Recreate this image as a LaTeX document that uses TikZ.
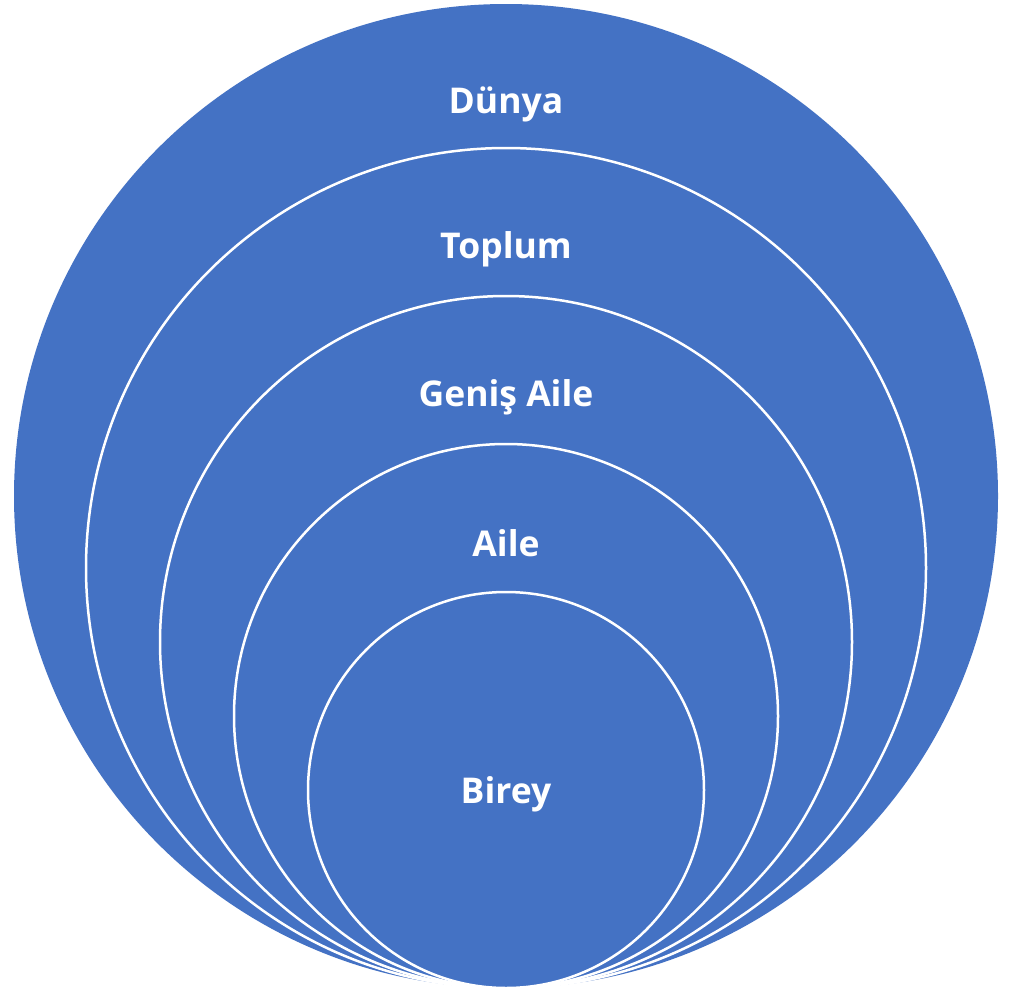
\documentclass[tikz,border=0pt]{standalone}
\usepackage{fontspec}
\setmainfont{Open Sans}
\definecolor{ringblue}{HTML}{4472C4}
\tikzset{
  ring/.style={fill=ringblue, draw=white, line width=2.5pt},
  lbl/.style={text=white, font=\fontsize{35.5}{42}\selectfont\bfseries, anchor=base, inner sep=0pt}
}
\begin{document}
\begin{tikzpicture}[x=1pt,y=-1pt]
\useasboundingbox (0,0) rectangle (1012,991);
\fill[white] (0,0) rectangle (1012,991);
\path[ring, draw=none] (506,496) circle[radius=492];
\path[ring] (506,568) circle[radius=420];
\path[ring] (506,642) circle[radius=346];
\path[ring] (506,716) circle[radius=272];
\path[ring] (506,790) circle[radius=198];
\node[lbl] (dunya) at (506,113) {Dünya};
\node[lbl] (toplum) at (506,258) {Toplum};
\node[lbl] (genis) at (506,406) {Geniş Aile};
\node[lbl] (aile) at (506,556) {Aile};
\node[lbl] (birey) at (506,803) {Birey};
\end{tikzpicture}
\end{document}
